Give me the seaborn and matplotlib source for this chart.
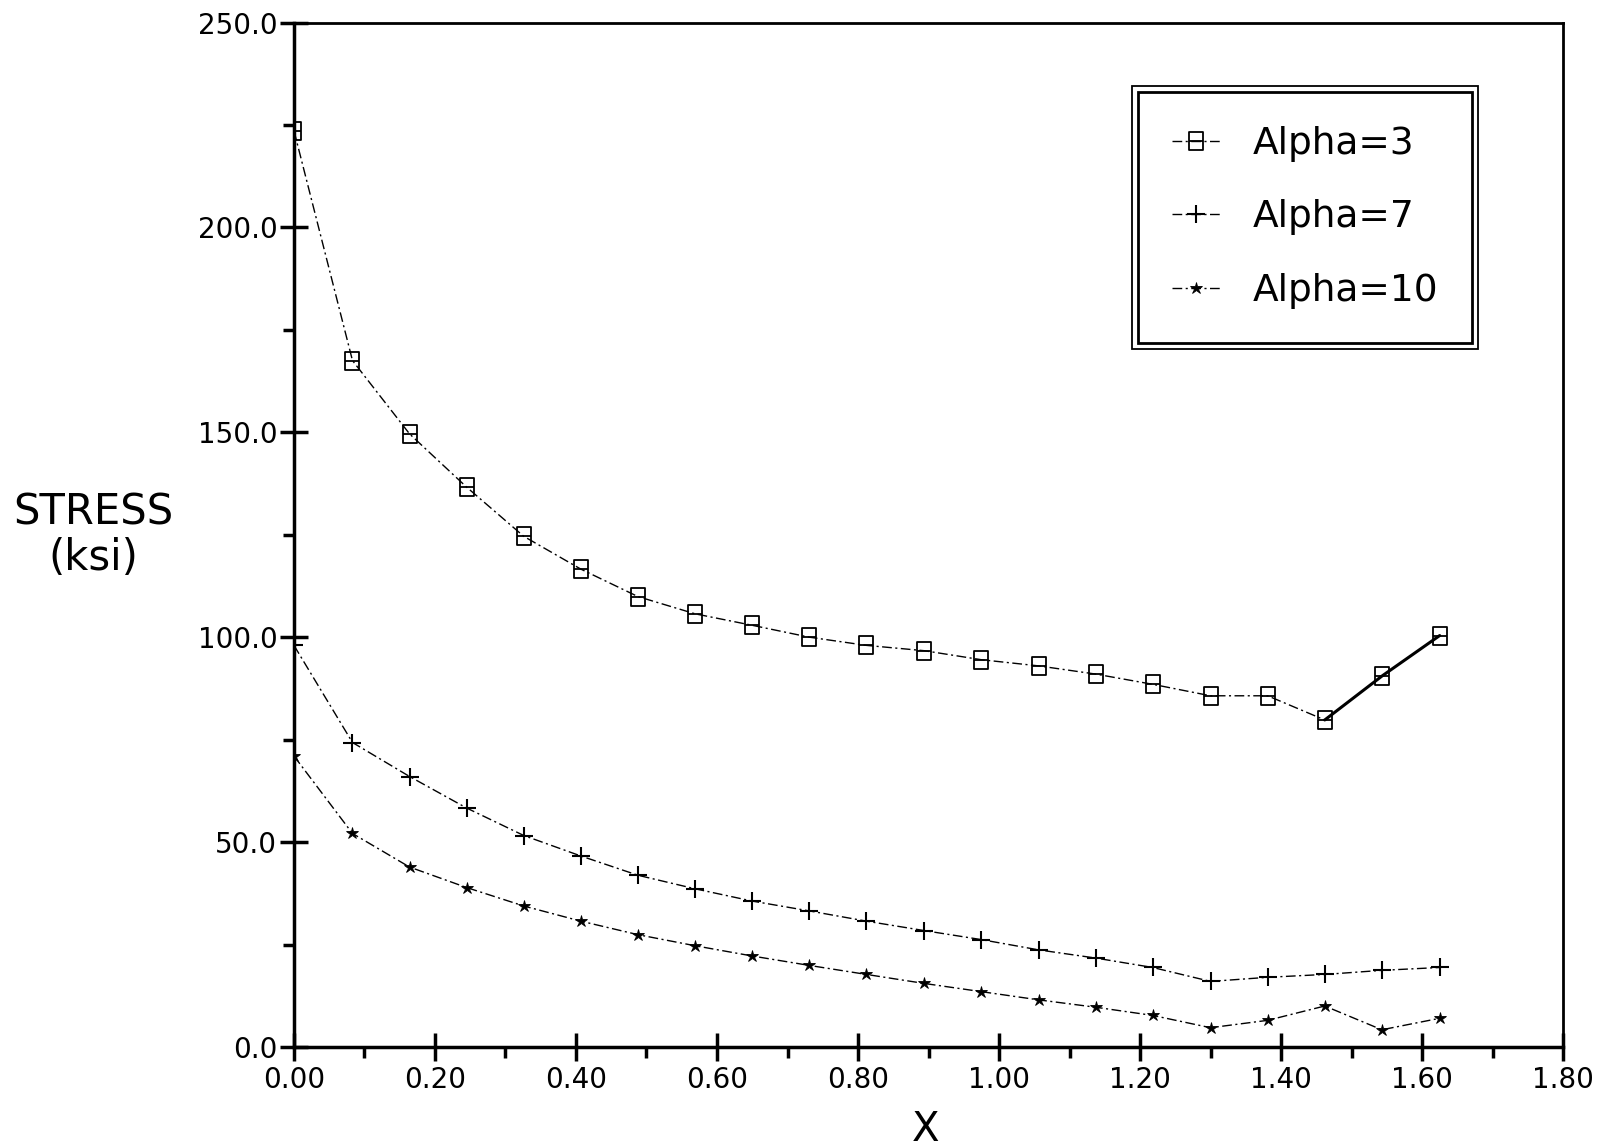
import numpy as np
import pandas as pd
import matplotlib
matplotlib.use("Agg")
import matplotlib.pyplot as plt
from matplotlib.path import Path
from matplotlib.lines import Line2D
from matplotlib.patches import Rectangle
from matplotlib.ticker import MultipleLocator, FormatStrFormatter
import seaborn as sns

# position along the member
x_vals = [0.0, 0.083, 0.164, 0.245, 0.326, 0.407, 0.488, 0.569, 0.650, 0.731,
          0.812, 0.894, 0.975, 1.056, 1.137, 1.218, 1.300, 1.381, 1.462, 1.543, 1.625]

# stress (ksi) for each alpha
stress_a3 = [223.6, 167.5, 149.6, 136.6, 124.6, 116.6, 109.9, 105.7, 102.9, 100.0,
             98.0, 96.7, 94.5, 93.0, 91.0, 88.5, 85.7, 85.7, 79.8, 90.5, 100.4]
stress_a7 = [98.0, 74.3, 66.0, 58.3, 51.6, 46.6, 41.9, 38.6, 35.6, 33.2,
             30.7, 28.4, 26.2, 23.7, 21.7, 19.4, 16.0, 17.0, 17.7, 18.7, 19.4]
stress_a10 = [71.0, 52.1, 43.9, 38.9, 34.4, 30.7, 27.4, 24.7, 22.2, 19.9,
              17.7, 15.5, 13.5, 11.5, 9.7, 7.7, 4.7, 6.5, 10.0, 4.2, 7.0]

labels = ["Alpha=3", "Alpha=7", "Alpha=10"]

sns.set_theme(style="white")
plt.rcParams["font.family"] = ["DejaVu Sans"]
plt.rcParams["text.color"] = "black"

# open box with a bar through the middle
box_marker = Path(
    [(-0.8, -1), (0.8, -1), (0.8, 1), (-0.8, 1), (-0.8, -1), (-0.8, 0), (0.8, 0)],
    [Path.MOVETO, Path.LINETO, Path.LINETO, Path.LINETO, Path.CLOSEPOLY,
     Path.MOVETO, Path.LINETO],
)

fig = plt.figure(figsize=(16.02, 11.48), dpi=100)
ax = fig.add_axes([0.1835, 0.088, 0.9757 - 0.1835, 0.9804 - 0.088])

dash = (0, (7, 2.5, 1.5, 2.5))
styles = [
    dict(marker=box_marker, markersize=13, markerfacecolor="none",
         markeredgecolor="black", markeredgewidth=1.3),
    dict(marker="+", markersize=13, markeredgecolor="black", markeredgewidth=1.5),
    dict(marker="*", markersize=9, markerfacecolor="black",
         markeredgecolor="black", markeredgewidth=0.6),
]
series = [stress_a3, stress_a7, stress_a10]

for ys, st in zip(series, styles):
    df = pd.DataFrame({"x": x_vals, "y": ys})
    sns.lineplot(data=df, x="x", y="y", ax=ax, color="black", linewidth=1.0,
                 linestyle=dash, sort=False, legend=False, **st)

# heavier trace over the final rise of the alpha=3 curve
tail = pd.DataFrame({"x": x_vals[-3:], "y": stress_a3[-3:]})
sns.lineplot(data=tail, x="x", y="y", ax=ax, color="black", linewidth=2.2,
             sort=False, legend=False)

ax.set_xlim(0, 1.8)
ax.set_ylim(0, 250)
ax.xaxis.set_major_locator(MultipleLocator(0.2))
ax.xaxis.set_minor_locator(MultipleLocator(0.1))
ax.yaxis.set_major_locator(MultipleLocator(50))
ax.yaxis.set_minor_locator(MultipleLocator(25))
ax.xaxis.set_major_formatter(FormatStrFormatter("%.2f"))
ax.yaxis.set_major_formatter(FormatStrFormatter("%.1f"))

ax.tick_params(which="major", direction="inout", length=20, width=2.5,
               color="black", labelsize=20, labelcolor="black")
ax.tick_params(which="minor", direction="out", length=8, width=2.5, color="black")
ax.tick_params(axis="x", which="major", pad=4)
ax.tick_params(axis="y", which="major", pad=2)
ax.tick_params(bottom=True, left=True, which="both")

for side, sp in ax.spines.items():
    sp.set_visible(True)
    sp.set_color("black")
    sp.set_linewidth(2.5 if side in ("left", "bottom") else 2.0)

ax.set_xlabel("")
ax.set_ylabel("")
fig.text(0.058, 0.534, "STRESS\n(ksi)", ha="center", va="center",
         multialignment="center", fontsize=30, linespacing=1.1)
fig.text(0.578, 0.016, "X", ha="center", va="center", fontsize=29)

handles = [
    Line2D([], [], color="black", linewidth=1.0, linestyle=dash, **st)
    for st in styles
]
leg = ax.legend(handles, labels, loc="upper right",
                bbox_to_anchor=(0.928, 0.932), fontsize=27, frameon=True,
                fancybox=False, handlelength=1.3, handletextpad=0.85,
                labelspacing=1.0, borderpad=0.9, borderaxespad=0.0)
frame = leg.get_frame()
frame.set_edgecolor("black")
frame.set_linewidth(2.0)
frame.set_facecolor("white")
frame.set_alpha(1.0)

# second outline around the legend
fig.canvas.draw()
bb = leg.get_window_extent().transformed(ax.transAxes.inverted())
px = 6 / (ax.bbox.width)
py = 6 / (ax.bbox.height)
ax.add_patch(Rectangle((bb.x0 - px, bb.y0 - py), bb.width + 2 * px,
                       bb.height + 2 * py, transform=ax.transAxes,
                       fill=False, edgecolor="black", linewidth=1.3,
                       zorder=6, clip_on=False))

fig.savefig("out.png", dpi=100, facecolor="white")
